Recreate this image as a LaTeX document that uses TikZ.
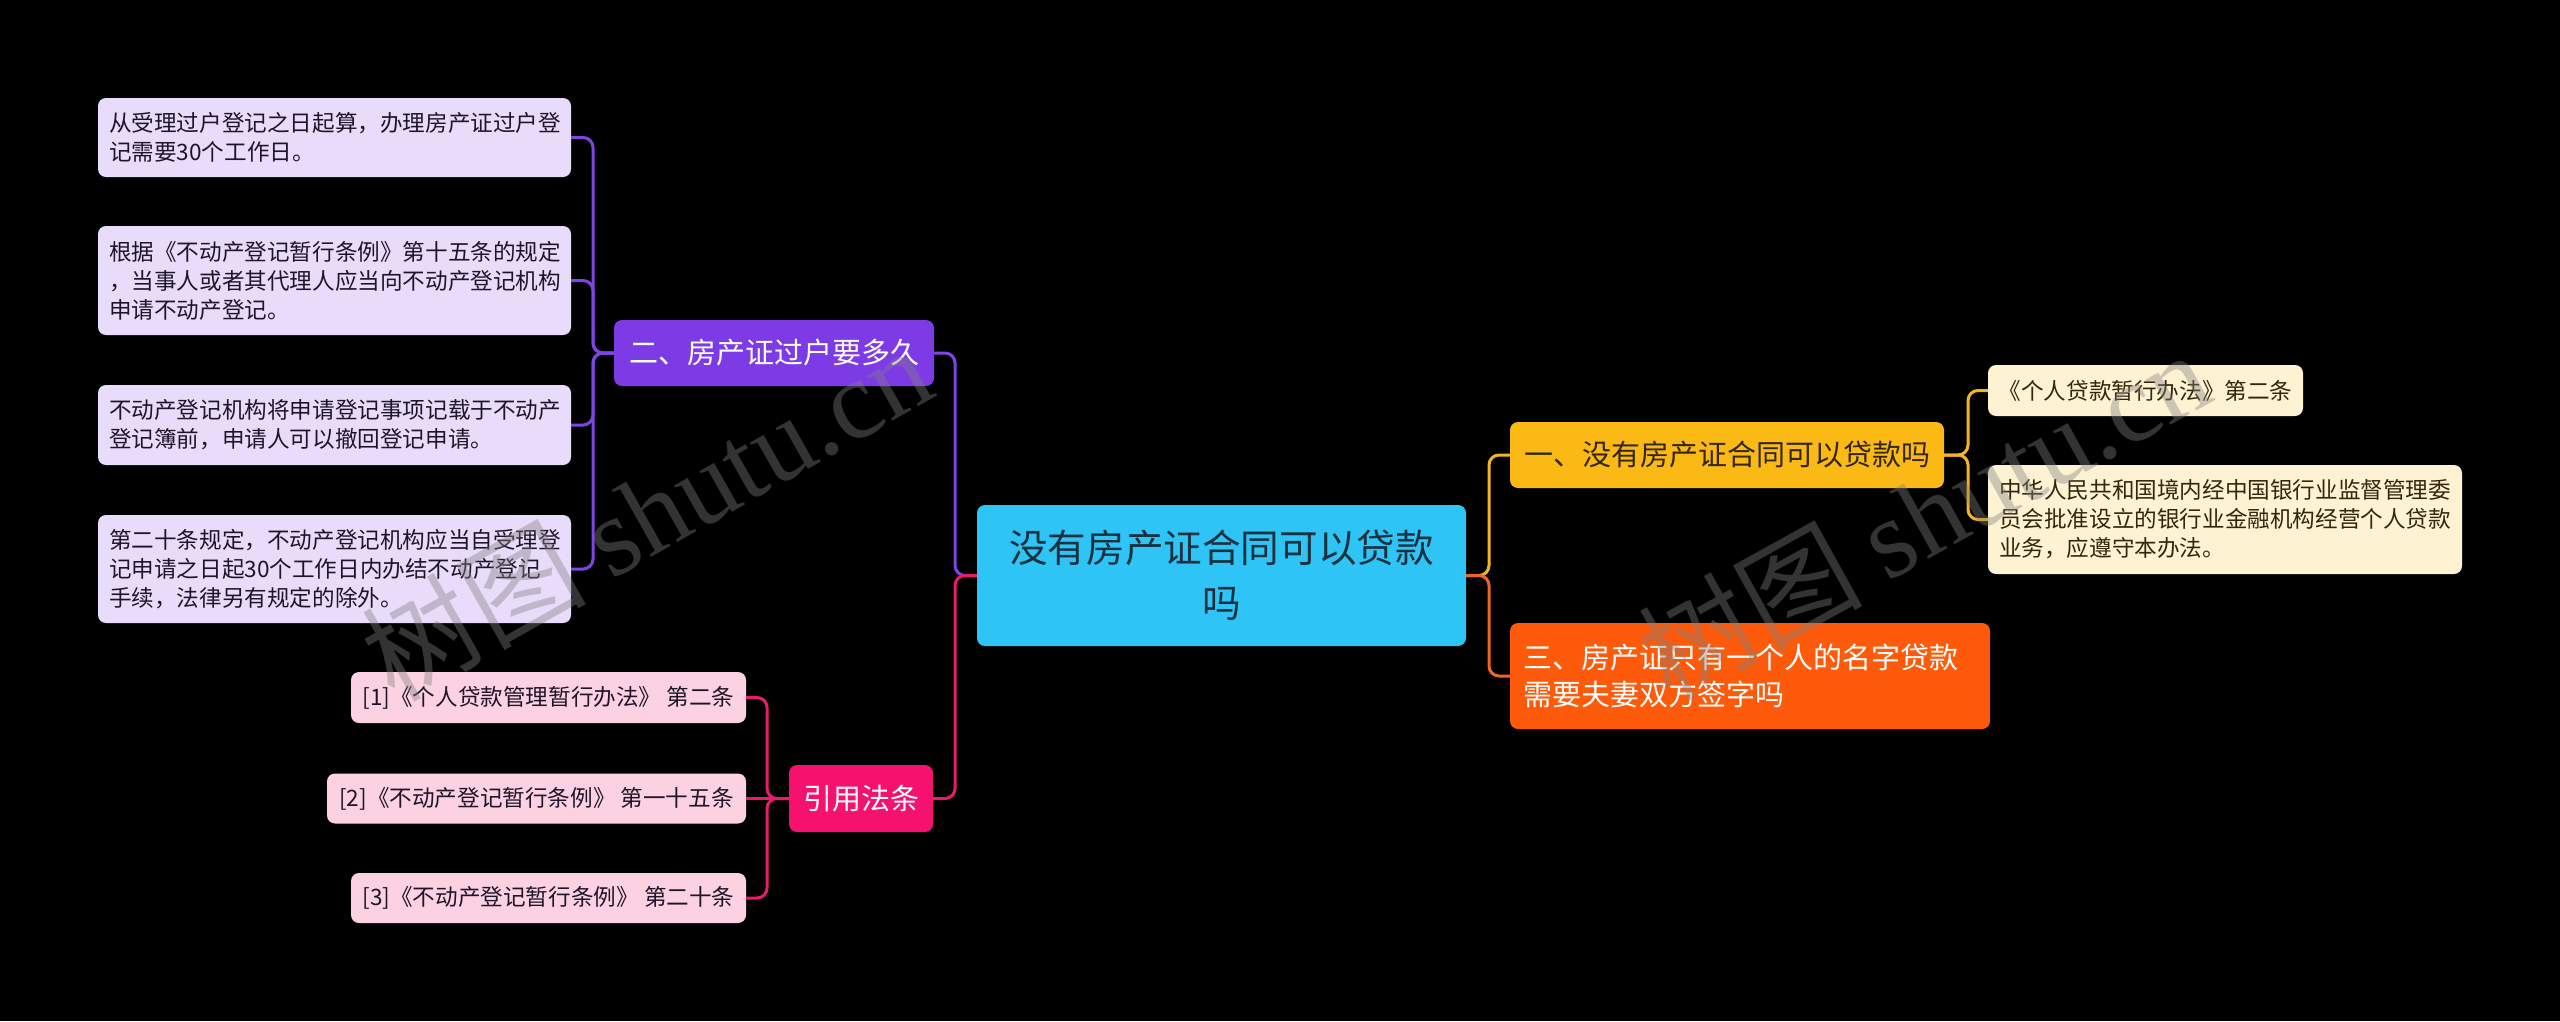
\documentclass[tikz,border=0pt]{standalone}
\usepackage{fontspec}
\setmainfont{Noto Sans CJK SC}
\newfontfamily\wmlatin{Liberation Serif}
\usetikzlibrary{calc}
\definecolor{lavbox}{HTML}{E9DCFB}
\definecolor{purnode}{HTML}{7D3BE6}
\definecolor{purline}{HTML}{7E45E2}
\definecolor{cyannode}{HTML}{2EC4F5}
\definecolor{pinknode}{HTML}{F5116E}
\definecolor{pinkbox}{HTML}{FCD2E2}
\definecolor{pinkline}{HTML}{E91C6C}
\definecolor{yelnode}{HTML}{FBB915}
\definecolor{yelbox}{HTML}{FDF3D2}
\definecolor{yelline}{HTML}{F4B61E}
\definecolor{ornode}{HTML}{FD5B0B}
\definecolor{orline}{HTML}{F0661C}
\definecolor{darktxt}{HTML}{1E1628}
\definecolor{centxt}{HTML}{1B3140}
\definecolor{browntxt}{HTML}{33260A}
\tikzset{
  box/.style={rectangle, rounded corners=8pt, inner sep=0pt, anchor=center},
  small/.style={font=\fontsize{22.6}{29}\selectfont},
  mid/.style={font=\fontsize{29}{36.7}\selectfont},
  conn/.style={line width=3pt},
  wm/.style={text=gray, opacity=0.4, font=\fontsize{112}{112}\selectfont, inner sep=0pt}
}
\begin{document}
\begin{tikzpicture}[x=1pt,y=-1pt]
\fill[black] (0,0) rectangle (2560,1021);
\useasboundingbox (0,0) rectangle (2560,1021);

% central
\node[box, fill=cyannode, minimum width=489pt, minimum height=141pt, align=center,
  text=centxt, font=\fontsize{38.6}{55}\selectfont] (c) at (1221.5,575.5) {没有房产证合同可以贷款\\吗};

% left branch nodes
\node[box, fill=purnode, minimum width=320pt, minimum height=66pt, text=white, mid] (n2) at (774,353) {二、房产证过户要多久};
\node[box, fill=pinknode, minimum width=144pt, minimum height=67pt, text=white, mid] (ref) at (861,798.5) {引用法条};

\node[box, fill=lavbox, minimum width=473pt, minimum height=79pt, text width=451pt, align=left, text=darktxt, small] (b1) at (334.5,137.5)
  {从受理过户登记之日起算，办理房产证过户登\\记需要30个工作日。};
\node[box, fill=lavbox, minimum width=473pt, minimum height=109pt, text width=451pt, align=left, text=darktxt, small] (b2) at (334.5,280.5)
  {根据《不动产登记暂行条例》第十五条的规定\\，当事人或者其代理人应当向不动产登记机构\\申请不动产登记。};
\node[box, fill=lavbox, minimum width=473pt, minimum height=80pt, text width=451pt, align=left, text=darktxt, small] (b3) at (334.5,425)
  {不动产登记机构将申请登记事项记载于不动产\\登记簿前，申请人可以撤回登记申请。};
\node[box, fill=lavbox, minimum width=473pt, minimum height=108pt, text width=451pt, align=left, text=darktxt, small] (b4) at (334.5,569)
  {第二十条规定，不动产登记机构应当自受理登\\记申请之日起30个工作日内办结不动产登记\\手续，法律另有规定的除外。};

\node[box, fill=pinkbox, minimum width=395pt, minimum height=51pt, text=darktxt, small] (r1) at (548.5,697.5) {[1]《个人贷款管理暂行办法》 第二条};
\node[box, fill=pinkbox, minimum width=419pt, minimum height=50pt, text=darktxt, small] (r2) at (536.5,798.5) {[2]《不动产登记暂行条例》 第一十五条};
\node[box, fill=pinkbox, minimum width=395pt, minimum height=50pt, text=darktxt, small] (r3) at (548.5,898) {[3]《不动产登记暂行条例》 第二十条};

% right branch nodes
\node[box, fill=yelnode, minimum width=434pt, minimum height=66pt, text=browntxt, mid] (n1) at (1727,455) {一、没有房产证合同可以贷款吗};
\node[box, fill=ornode, minimum width=480pt, minimum height=106pt, text width=454pt, align=left, text=white, mid] (n3) at (1750,676)
  {三、房产证只有一个人的名字贷款\\需要夫妻双方签字吗};
\node[box, fill=yelbox, minimum width=315pt, minimum height=51pt, text=browntxt, small] (y1) at (2145.5,390.5) {《个人贷款暂行办法》第二条};
\node[box, fill=yelbox, minimum width=474pt, minimum height=109pt, text width=452pt, align=left, text=browntxt, small] (y2) at (2225,519.5)
  {中华人民共和国境内经中国银行业监督管理委\\员会批准设立的银行业金融机构经营个人贷款\\业务，应遵守本办法。};

% junctions
\coordinate (jl) at (955,575.5);
\coordinate (jr) at (1489,575.5);
\coordinate (j2) at (593,353);
\coordinate (jref) at (767,798.5);
\coordinate (j1) at (1968,455);

% connectors
\foreach \b in {b1,b2,b3,b4}
  \draw[conn, purline] (\b.east) [rounded corners=10pt] -| (j2) [sharp corners] -- (n2.west);
\draw[conn, pinkline] (r1.east) [rounded corners=10pt] -| (jref) [sharp corners] -- (ref.west);
\draw[conn, pinkline] (r3.east) [rounded corners=10pt] -| (jref) [sharp corners] -- (ref.west);
\draw[conn, pinkline] (r2.east) -- (ref.west);
\draw[conn, purline] (n2.east) [rounded corners=10pt] -| (jl) [sharp corners] -- (c.west);
\draw[conn, pinkline] (ref.east) [rounded corners=10pt] -| (jl) [sharp corners] -- (c.west);
\draw[conn, yelline] (n1.west) [rounded corners=10pt] -| (jr) [sharp corners] -- (c.east);
\draw[conn, orline] (n3.west) [rounded corners=10pt] -| (jr) [sharp corners] -- (c.east);
\draw[conn, yelline] (y1.west) [rounded corners=10pt] -| (j1) [sharp corners] -- (n1.east);
\draw[conn, yelline] (y2.west) [rounded corners=10pt] -| (j1) [sharp corners] -- (n1.east);

% watermarks
\node[wm, rotate=29.5] (wm1) at (646,512) {树图 {\wmlatin shutu.cn}};
\node[wm, rotate=29] (wm2) at (1923,514) {树图 {\wmlatin shutu.cn}};
\end{tikzpicture}
\end{document}
